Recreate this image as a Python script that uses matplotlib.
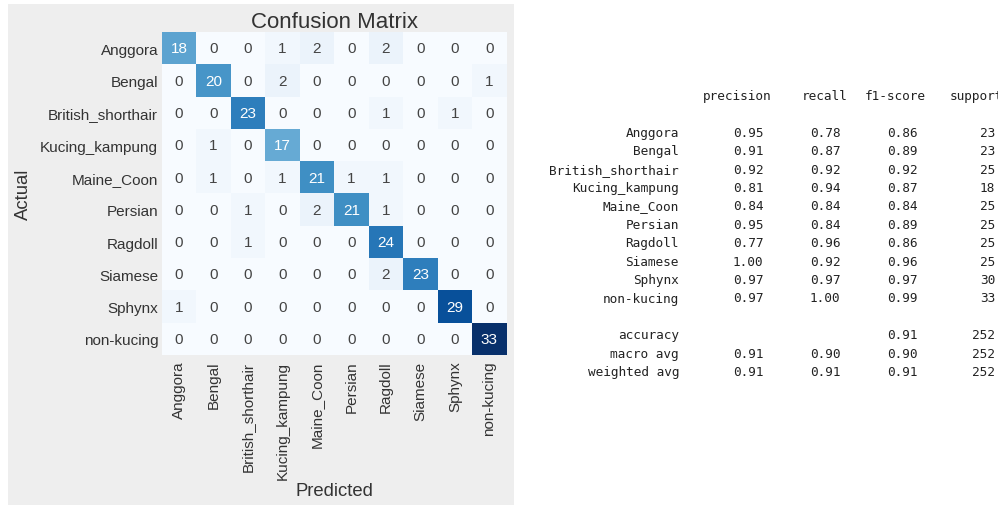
import numpy as np
import matplotlib
matplotlib.use("Agg")
import matplotlib.pyplot as plt
from matplotlib.patches import Rectangle
from matplotlib.colors import to_rgb

# class names and the confusion matrix (rows = actual, cols = predicted)
classes = ["Anggora", "Bengal", "British_shorthair", "Kucing_kampung", "Maine_Coon",
           "Persian", "Ragdoll", "Siamese", "Sphynx", "non-kucing"]
cm_rows = [
    [18, 0, 0, 1, 2, 0, 2, 0, 0, 0],
    [0, 20, 0, 2, 0, 0, 0, 0, 0, 1],
    [0, 0, 23, 0, 0, 0, 1, 0, 1, 0],
    [0, 1, 0, 17, 0, 0, 0, 0, 0, 0],
    [0, 1, 0, 1, 21, 1, 1, 0, 0, 0],
    [0, 0, 1, 0, 2, 21, 1, 0, 0, 0],
    [0, 0, 1, 0, 0, 0, 24, 0, 0, 0],
    [0, 0, 0, 0, 0, 0, 2, 23, 0, 0],
    [1, 0, 0, 0, 0, 0, 0, 0, 29, 0],
    [0, 0, 0, 0, 0, 0, 0, 0, 0, 33],
]

# classification report values
headers = ["precision", "recall", "f1-score", "support"]
precision = [0.95, 0.91, 0.92, 0.81, 0.84, 0.95, 0.77, 1.00, 0.97, 0.97]
recall = [0.78, 0.87, 0.92, 0.94, 0.84, 0.84, 0.96, 0.92, 0.97, 1.00]
f1_score = [0.86, 0.89, 0.92, 0.87, 0.84, 0.89, 0.86, 0.96, 0.97, 0.99]
support = [23, 23, 25, 18, 25, 25, 25, 25, 30, 33]
accuracy = 0.91
macro_avg = [0.91, 0.90, 0.90]
weighted_avg = [0.91, 0.91, 0.91]
total_support = 252

W, H = 998, 506
fig = plt.figure(figsize=(W / 100, H / 100), dpi=100)
fig.patch.set_facecolor("white")

# grey backdrop of the left figure
fig.patches.append(Rectangle((8 / W, 0), 506 / W, 1 - 5 / H, transform=fig.transFigure,
                             facecolor="#eeeeee", edgecolor="none", zorder=-10))

cm = np.array(cm_rows)
n = len(classes)
left, right, top, bottom = 161.7, 506.7, 33.3, 356.0
ax = fig.add_axes([left / W, 1 - bottom / H, (right - left) / W, (bottom - top) / H])
ax.set_zorder(5)
ax.patch.set_alpha(0)
cmap = plt.get_cmap("Blues")
ax.imshow(cm, cmap=cmap, vmin=0, vmax=cm.max(), aspect="auto", interpolation="nearest")

sans = ["Liberation Sans", "DejaVu Sans"]
for i in range(n):
    for j in range(n):
        r, g, b = to_rgb(cmap(cm[i, j] / cm.max()))
        lum = 0.2126 * r ** 2.2 + 0.7152 * g ** 2.2 + 0.0722 * b ** 2.2
        color = "#444444" if lum > 0.408 else "white"
        ax.text(j, i, str(cm[i, j]), ha="center", va="center", fontsize=11,
                color=color, family=sans)

ax.set_xticks(range(n))
ax.set_yticks(range(n))
ax.set_xticklabels(classes, rotation=90, fontsize=11, family=sans, color="#333333")
ax.set_yticklabels(classes, fontsize=11, family=sans, color="#333333")
ax.tick_params(axis="both", length=0)
ax.tick_params(axis="x", pad=4)
ax.tick_params(axis="y", pad=2.5)
for s in ax.spines.values():
    s.set_visible(False)

ax.set_title("Confusion Matrix", fontsize=16, pad=4, family=sans, color="#333333")
ax.set_xlabel("Predicted", fontsize=13.3, family=sans, color="#333333")
ax.set_ylabel("Actual", fontsize=13.3, family=sans, color="#333333")
ax.xaxis.label.set_va("center")
ax.yaxis.label.set_va("center")
ax.xaxis.set_label_coords(0.5, (bottom - 491.5) / (bottom - top))
ax.yaxis.set_label_coords((23 - left) / (right - left), 0.5)

# classification report, printed text; each column right-aligned at its own edge
mono = dict(fontsize=9.2, family="DejaVu Sans Mono", color="#222222", va="baseline", ha="right")
label_edge = 679
value_edges = [763.5, 840.2, 917.9, 995.0]
header_edges = [771.2, 847.9, 925.6, 1002.7]


def put(xpix, k, s):
    yc = 95.5 + 18.4 * k
    fig.text(xpix / W, 1 - (yc + 4.6) / H, s, **mono)


for xe, h in zip(header_edges, headers):
    put(xe, 0, h)
for k, (name, p, rc, f, s) in enumerate(zip(classes, precision, recall, f1_score, support)):
    put(label_edge, k + 2, name)
    for xe, v in zip(value_edges, (p, rc, f)):
        put(xe, k + 2, "{:.2f}".format(v))
    put(value_edges[3], k + 2, str(s))

k0 = len(classes) + 3
put(label_edge, k0, "accuracy")
put(value_edges[2], k0, "{:.2f}".format(accuracy))
put(value_edges[3], k0, str(total_support))
for k, (name, vals) in enumerate((("macro avg", macro_avg), ("weighted avg", weighted_avg))):
    put(label_edge, k0 + 1 + k, name)
    for xe, v in zip(value_edges, vals):
        put(xe, k0 + 1 + k, "{:.2f}".format(v))
    put(value_edges[3], k0 + 1 + k, str(total_support))

fig.savefig("out.png", dpi=100)
